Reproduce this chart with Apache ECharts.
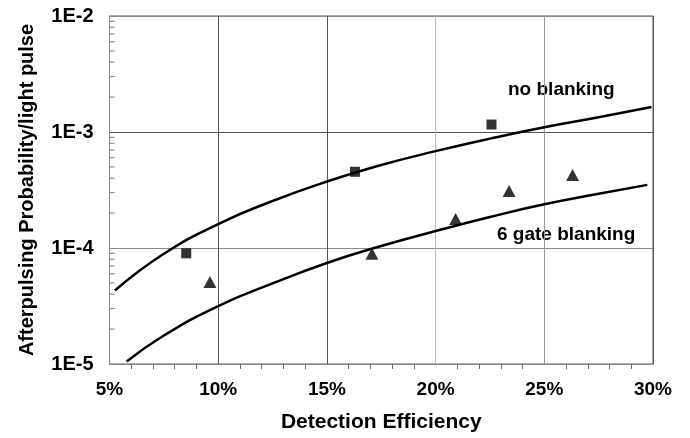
<!DOCTYPE html>
<html>
<head>
<meta charset="utf-8">
<script src="https://cdn.jsdelivr.net/npm/echarts@6/dist/echarts.min.js"></script>
<style>
    html, body { margin: 0; padding: 0; background: #fff; }
    #main { width: 690px; height: 438px; }
</style>
</head>
<body>
<div id="main"></div>
<script>
// fitted curves (x in %, y probability)
var noBlankX = [5.25, 7.5, 10, 12.5, 15, 17.5, 20, 22.5, 25, 27.5, 29.93];
var noBlankY = [4.3e-5, 8.91e-5, 1.61e-4, 2.54e-4, 3.74e-4, 5.19e-4, 6.84e-4, 8.77e-4, 1.1e-3, 1.34e-3, 1.64e-3];
var gate6X = [5.79, 7.5, 10, 12.5, 15, 17.5, 20, 22.5, 25, 27.5, 29.74];
var gate6Y = [1.05e-5, 1.76e-5, 3.16e-5, 4.95e-5, 7.43e-5, 1.04e-4, 1.4e-4, 1.85e-4, 2.38e-4, 2.93e-4, 3.5e-4];

// measured points
var squareX = [8.53, 16.29, 22.57];
var squareY = [9.0e-5, 4.54e-4, 1.16e-3];
var triangleX = [9.62, 17.07, 20.92, 23.38, 26.3];
var triangleY = [5.1e-5, 8.9e-5, 1.78e-4, 3.1e-4, 4.25e-4];

var xTickLabels = ['5%', '10%', '15%', '20%', '25%', '30%'];
var yTickLabels = ['1E-5', '1E-4', '1E-3', '1E-2'];
// small ticks on the y axis, 2..9 in each decade
var yMinorTicks = [2e-5, 3e-5, 4e-5, 5e-5, 6e-5, 7e-5, 8e-5, 9e-5,
                   2e-4, 3e-4, 4e-4, 5e-4, 6e-4, 7e-4, 8e-4, 9e-4,
                   2e-3, 3e-3, 4e-3, 5e-3, 6e-3, 7e-3, 8e-3, 9e-3];

function zipXY(xs, ys) {
    var out = [];
    for (var i = 0; i < xs.length; i++) {
        out.push([xs[i], ys[i]]);
    }
    return out;
}

var font = 'Liberation Sans, Arial, sans-serif';
var myChart = echarts.init(document.getElementById('main'));

var option = {
    animation: false,
    backgroundColor: '#fff',
    grid: {
        left: 109.5,
        right: 37,
        top: 16,
        bottom: 71.5,
        show: true,
        borderColor: '#555',
        borderWidth: 1
    },
    xAxis: {
        type: 'value',
        min: 5,
        max: 30,
        interval: 5,
        name: 'Detection Efficiency',
        nameLocation: 'middle',
        nameGap: 48,
        nameTextStyle: { fontFamily: font, fontWeight: 'bold', fontSize: 21, color: '#000' },
        axisLine: { show: true, lineStyle: { color: '#888', width: 1 } },
        axisTick: { show: false },
        minorTick: { show: true, splitNumber: 5, length: 5, lineStyle: { color: '#666' } },
        axisLabel: {
            margin: 16,
            fontFamily: font,
            fontWeight: 'bold',
            fontSize: 19,
            color: '#000',
            formatter: function (v) {
                return xTickLabels[Math.round((v - 5) / 5)];
            }
        },
        splitLine: {
            show: true,
            lineStyle: { color: ['#555', '#555', '#555', '#bbb', '#999', '#555'], width: 1 }
        }
    },
    yAxis: {
        type: 'log',
        logBase: 10,
        min: 1e-5,
        max: 1e-2,
        name: 'Afterpulsing Probability/light pulse',
        nameLocation: 'middle',
        nameGap: 72,
        nameTextStyle: { fontFamily: font, fontWeight: 'bold', fontSize: 20, color: '#000' },
        axisLine: { show: true, lineStyle: { color: '#888', width: 1 } },
        axisTick: { show: false },
        axisLabel: {
            margin: 16,
            fontFamily: font,
            fontWeight: 'bold',
            fontSize: 20,
            color: '#000',
            formatter: function (v) {
                return yTickLabels[Math.round(Math.log10(v)) + 5];
            }
        },
        splitLine: {
            show: true,
            lineStyle: { color: ['#888', '#888', '#555', '#555'], width: 1 }
        }
    },
    series: [
        {
            name: 'minor ticks',
            type: 'custom',
            silent: true,
            data: yMinorTicks.map(function (v) { return [5, v]; }),
            renderItem: function (params, api) {
                var p = api.coord([api.value(0), api.value(1)]);
                return {
                    type: 'line',
                    shape: { x1: p[0], y1: p[1], x2: p[0] + 5, y2: p[1] },
                    style: { stroke: '#777', lineWidth: 1 }
                };
            },
            z: 1
        },
        {
            name: 'no blanking',
            type: 'line',
            smooth: 0.5,
            showSymbol: false,
            data: zipXY(noBlankX, noBlankY),
            lineStyle: { color: '#000', width: 2.5 },
            z: 3
        },
        {
            name: '6 gate blanking',
            type: 'line',
            smooth: 0.5,
            showSymbol: false,
            data: zipXY(gate6X, gate6Y),
            lineStyle: { color: '#000', width: 2.5 },
            z: 3
        },
        {
            name: 'no blanking data',
            type: 'scatter',
            symbol: 'rect',
            symbolSize: 10,
            itemStyle: { color: '#000' },
            data: zipXY(squareX, squareY),
            z: 4
        },
        {
            name: '6 gate data',
            type: 'scatter',
            symbol: 'triangle',
            symbolSize: [13, 12],
            itemStyle: { color: '#000' },
            data: zipXY(triangleX, triangleY),
            z: 4
        }
    ],
    graphic: [
        {
            type: 'text',
            left: 508,
            top: 80,
            style: { text: 'no blanking', font: 'bold 19px ' + font, fill: '#000' }
        },
        {
            type: 'text',
            left: 497,
            top: 225,
            style: { text: '6 gate blanking', font: 'bold 19px ' + font, fill: '#000' }
        }
    ]
};

myChart.setOption(option);
</script>
</body>
</html>
